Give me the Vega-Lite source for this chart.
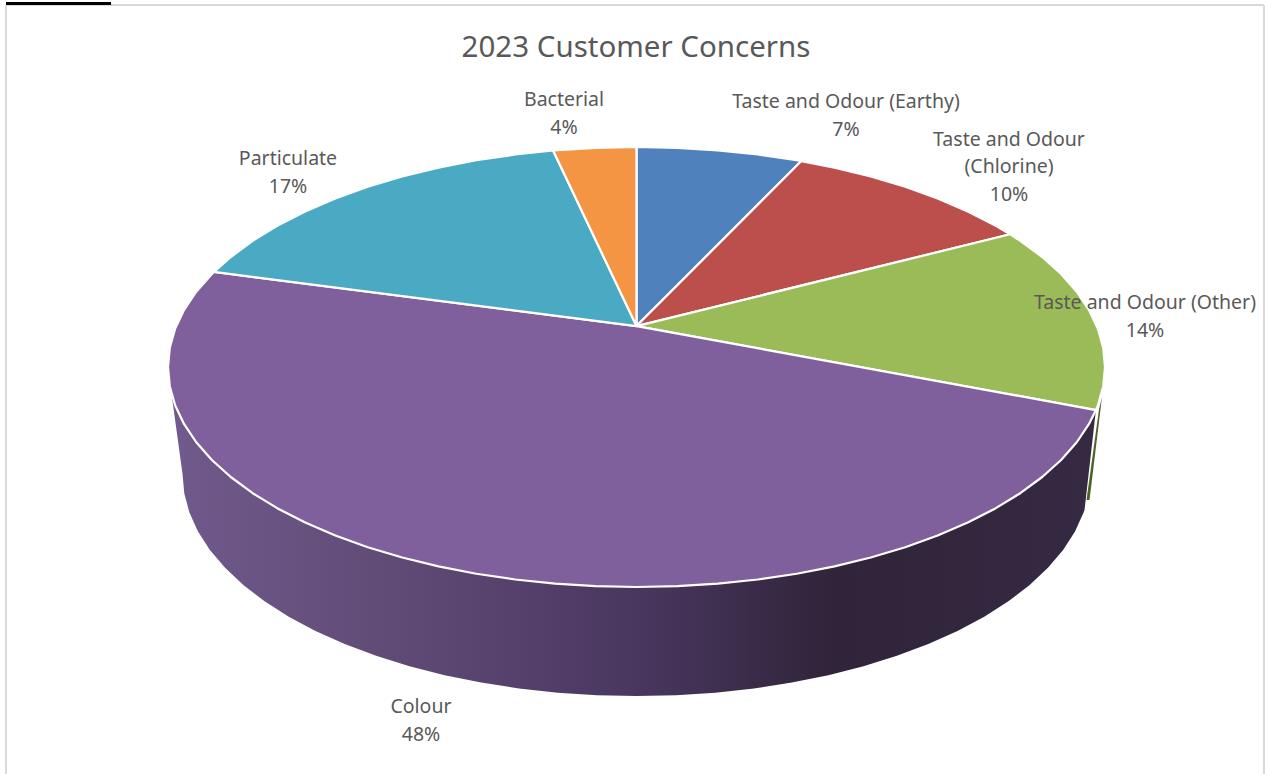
{
"$schema":"https://vega.github.io/schema/vega-lite/v6.json",
"width":1265,"height":774,"padding":0,"autosize":{"type":"none"},"background":"white",
"config":{"view":{"stroke":null}},
"title":{"text":"2023 Customer Concerns","font":"Noto Sans","fontSize":29.5,"fontWeight":"normal","color":"#595959","anchor":"middle","offset":-63,"dx":3.5},
"datasets":{
"frame":[
{"name":"top","u":-1.3458,"u2":1.3394,"v":1.6455,"v2":1.6455},
{"name":"left","u":-1.3458,"u2":-1.3458,"v":1.6455,"v2":-1.85},
{"name":"right","u":1.3394,"u2":1.3394,"v":1.6455,"v2":-1.85}],
"tab":[{"u":-1.3458,"u2":-1.1216,"v":1.6523,"v2":1.6523}],
"edge":[{"i":0,"u":0.9936,"v":-0.136},{"i":1,"u":0.9870,"v":-0.195},{"i":2,"u":0.9605,"v":-0.6045},{"i":3,"u":0.9670,"v":-0.6045}],
"wall":[
{"i":1,"u":0.9806,"v":-0.1959},{"i":2,"u":0.9659,"v":-0.2588},{"i":3,"u":0.9397,"v":-0.342},{"i":4,"u":0.9063,"v":-0.4226},{"i":5,"u":0.866,"v":-0.5},{"i":6,"u":0.8192,"v":-0.5736},{"i":7,"u":0.766,"v":-0.6428},{"i":8,"u":0.7071,"v":-0.7071},{"i":9,"u":0.6428,"v":-0.766},{"i":10,"u":0.5736,"v":-0.8192},{"i":11,"u":0.5,"v":-0.866},{"i":12,"u":0.4226,"v":-0.9063},{"i":13,"u":0.342,"v":-0.9397},{"i":14,"u":0.2588,"v":-0.9659},{"i":15,"u":0.1736,"v":-0.9848},{"i":16,"u":0.0872,"v":-0.9962},{"i":17,"u":0,"v":-1},{"i":18,"u":-0.0872,"v":-0.9962},{"i":19,"u":-0.1736,"v":-0.9848},{"i":20,"u":-0.2588,"v":-0.9659},{"i":21,"u":-0.342,"v":-0.9397},{"i":22,"u":-0.4226,"v":-0.9063},{"i":23,"u":-0.5,"v":-0.866},{"i":24,"u":-0.5736,"v":-0.8192},{"i":25,"u":-0.6428,"v":-0.766},{"i":26,"u":-0.7071,"v":-0.7071},{"i":27,"u":-0.766,"v":-0.6428},{"i":28,"u":-0.8192,"v":-0.5736},{"i":29,"u":-0.866,"v":-0.5},{"i":30,"u":-0.9063,"v":-0.4226},{"i":31,"u":-0.9397,"v":-0.342},{"i":32,"u":-0.9659,"v":-0.2588},{"i":33,"u":-0.9848,"v":-0.1736},{"i":34,"u":-0.9925,"v":-0.1219},
{"i":35,"u":-0.969,"v":-0.4864},{"i":36,"u":-0.9653,"v":-0.5744},{"i":37,"u":-0.9543,"v":-0.6616},{"i":38,"u":-0.936,"v":-0.7476},{"i":39,"u":-0.9106,"v":-0.8315},{"i":40,"u":-0.8782,"v":-0.9128},{"i":41,"u":-0.8392,"v":-0.991},{"i":42,"u":-0.7938,"v":-1.0652},{"i":43,"u":-0.7423,"v":-1.135},{"i":44,"u":-0.6852,"v":-1.2},{"i":45,"u":-0.6229,"v":-1.2594},{"i":46,"u":-0.5558,"v":-1.313},{"i":47,"u":-0.4845,"v":-1.3603},{"i":48,"u":-0.4095,"v":-1.401},{"i":49,"u":-0.3314,"v":-1.4346},{"i":50,"u":-0.2508,"v":-1.4611},{"i":51,"u":-0.1682,"v":-1.4802},{"i":52,"u":-0.0845,"v":-1.4917},{"i":53,"u":0,"v":-1.4955},{"i":54,"u":0.0845,"v":-1.4917},{"i":55,"u":0.1682,"v":-1.4802},{"i":56,"u":0.2508,"v":-1.4611},{"i":57,"u":0.3314,"v":-1.4346},{"i":58,"u":0.4095,"v":-1.401},{"i":59,"u":0.4845,"v":-1.3603},{"i":60,"u":0.5558,"v":-1.313},{"i":61,"u":0.6229,"v":-1.2594},{"i":62,"u":0.6852,"v":-1.2},{"i":63,"u":0.7423,"v":-1.135},{"i":64,"u":0.7938,"v":-1.0652},{"i":65,"u":0.8392,"v":-0.991},{"i":66,"u":0.8782,"v":-0.9128},{"i":67,"u":0.9106,"v":-0.8315},{"i":68,"u":0.936,"v":-0.7476},{"i":69,"u":0.9543,"v":-0.6616},{"i":70,"u":0.9563,"v":-0.6495}],
"slices":[
{"c":"Taste and Odour (Earthy)","i":0,"u":0,"v":0.186},{"c":"Taste and Odour (Earthy)","i":1,"u":0,"v":1},{"c":"Taste and Odour (Earthy)","i":2,"u":0.0872,"v":0.9962},{"c":"Taste and Odour (Earthy)","i":3,"u":0.1736,"v":0.9848},{"c":"Taste and Odour (Earthy)","i":4,"u":0.2588,"v":0.9659},{"c":"Taste and Odour (Earthy)","i":5,"u":0.342,"v":0.9397},{"c":"Taste and Odour (Earthy)","i":6,"u":0.3518,"v":0.9361},
{"c":"Taste and Odour (Chlorine)","i":0,"u":0,"v":0.186},{"c":"Taste and Odour (Chlorine)","i":1,"u":0.3518,"v":0.9361},{"c":"Taste and Odour (Chlorine)","i":2,"u":0.4226,"v":0.9063},{"c":"Taste and Odour (Chlorine)","i":3,"u":0.5,"v":0.866},{"c":"Taste and Odour (Chlorine)","i":4,"u":0.5736,"v":0.8192},{"c":"Taste and Odour (Chlorine)","i":5,"u":0.6428,"v":0.766},{"c":"Taste and Odour (Chlorine)","i":6,"u":0.7071,"v":0.7071},{"c":"Taste and Odour (Chlorine)","i":7,"u":0.766,"v":0.6428},{"c":"Taste and Odour (Chlorine)","i":8,"u":0.7976,"v":0.6032},
{"c":"Taste and Odour (Other)","i":0,"u":0,"v":0.186},{"c":"Taste and Odour (Other)","i":1,"u":0.7976,"v":0.6032},{"c":"Taste and Odour (Other)","i":2,"u":0.8192,"v":0.5736},{"c":"Taste and Odour (Other)","i":3,"u":0.866,"v":0.5},{"c":"Taste and Odour (Other)","i":4,"u":0.9063,"v":0.4226},{"c":"Taste and Odour (Other)","i":5,"u":0.9397,"v":0.342},{"c":"Taste and Odour (Other)","i":6,"u":0.9659,"v":0.2588},{"c":"Taste and Odour (Other)","i":7,"u":0.9848,"v":0.1736},{"c":"Taste and Odour (Other)","i":8,"u":0.9962,"v":0.0872},{"c":"Taste and Odour (Other)","i":9,"u":1,"v":0},{"c":"Taste and Odour (Other)","i":10,"u":0.9962,"v":-0.0872},{"c":"Taste and Odour (Other)","i":11,"u":0.9848,"v":-0.1736},{"c":"Taste and Odour (Other)","i":12,"u":0.9806,"v":-0.1959},
{"c":"Colour","i":0,"u":0,"v":0.186},{"c":"Colour","i":1,"u":0.9806,"v":-0.1959},{"c":"Colour","i":2,"u":0.9659,"v":-0.2588},{"c":"Colour","i":3,"u":0.9397,"v":-0.342},{"c":"Colour","i":4,"u":0.9063,"v":-0.4226},{"c":"Colour","i":5,"u":0.866,"v":-0.5},{"c":"Colour","i":6,"u":0.8192,"v":-0.5736},{"c":"Colour","i":7,"u":0.766,"v":-0.6428},{"c":"Colour","i":8,"u":0.7071,"v":-0.7071},{"c":"Colour","i":9,"u":0.6428,"v":-0.766},{"c":"Colour","i":10,"u":0.5736,"v":-0.8192},{"c":"Colour","i":11,"u":0.5,"v":-0.866},{"c":"Colour","i":12,"u":0.4226,"v":-0.9063},{"c":"Colour","i":13,"u":0.342,"v":-0.9397},{"c":"Colour","i":14,"u":0.2588,"v":-0.9659},{"c":"Colour","i":15,"u":0.1736,"v":-0.9848},{"c":"Colour","i":16,"u":0.0872,"v":-0.9962},{"c":"Colour","i":17,"u":0,"v":-1},{"c":"Colour","i":18,"u":-0.0872,"v":-0.9962},{"c":"Colour","i":19,"u":-0.1736,"v":-0.9848},{"c":"Colour","i":20,"u":-0.2588,"v":-0.9659},{"c":"Colour","i":21,"u":-0.342,"v":-0.9397},{"c":"Colour","i":22,"u":-0.4226,"v":-0.9063},{"c":"Colour","i":23,"u":-0.5,"v":-0.866},{"c":"Colour","i":24,"u":-0.5736,"v":-0.8192},{"c":"Colour","i":25,"u":-0.6428,"v":-0.766},{"c":"Colour","i":26,"u":-0.7071,"v":-0.7071},{"c":"Colour","i":27,"u":-0.766,"v":-0.6428},{"c":"Colour","i":28,"u":-0.8192,"v":-0.5736},{"c":"Colour","i":29,"u":-0.866,"v":-0.5},{"c":"Colour","i":30,"u":-0.9063,"v":-0.4226},{"c":"Colour","i":31,"u":-0.9397,"v":-0.342},{"c":"Colour","i":32,"u":-0.9659,"v":-0.2588},{"c":"Colour","i":33,"u":-0.9848,"v":-0.1736},{"c":"Colour","i":34,"u":-0.9962,"v":-0.0872},{"c":"Colour","i":35,"u":-1,"v":0},{"c":"Colour","i":36,"u":-0.9962,"v":0.0872},{"c":"Colour","i":37,"u":-0.9848,"v":0.1736},{"c":"Colour","i":38,"u":-0.9659,"v":0.2588},{"c":"Colour","i":39,"u":-0.9397,"v":0.342},{"c":"Colour","i":40,"u":-0.9063,"v":0.4226},{"c":"Colour","i":41,"u":-0.9018,"v":0.4321},
{"c":"Particulate","i":0,"u":0,"v":0.186},{"c":"Particulate","i":1,"u":-0.9018,"v":0.4321},{"c":"Particulate","i":2,"u":-0.866,"v":0.5},{"c":"Particulate","i":3,"u":-0.8192,"v":0.5736},{"c":"Particulate","i":4,"u":-0.766,"v":0.6428},{"c":"Particulate","i":5,"u":-0.7071,"v":0.7071},{"c":"Particulate","i":6,"u":-0.6428,"v":0.766},{"c":"Particulate","i":7,"u":-0.5736,"v":0.8192},{"c":"Particulate","i":8,"u":-0.5,"v":0.866},{"c":"Particulate","i":9,"u":-0.4226,"v":0.9063},{"c":"Particulate","i":10,"u":-0.342,"v":0.9397},{"c":"Particulate","i":11,"u":-0.2588,"v":0.9659},{"c":"Particulate","i":12,"u":-0.178,"v":0.984},
{"c":"Bacterial","i":0,"u":0,"v":0.186},{"c":"Bacterial","i":1,"u":-0.178,"v":0.984},{"c":"Bacterial","i":2,"u":-0.0872,"v":0.9962},{"c":"Bacterial","i":3,"u":0,"v":1}],
"labels":[
{"c":"Bacterial","share":4,"label":"Bacterial\n4%","u":-0.1547,"v":1.2182},
{"c":"Taste and Odour (Earthy)","share":7,"label":"Taste and Odour (Earthy)\n7%","u":0.4472,"v":1.2091},
{"c":"Taste and Odour (Chlorine)","share":10,"label":"Taste and Odour\n(Chlorine)\n10%","u":0.7951,"v":1.0409},
{"c":"Taste and Odour (Other)","share":14,"label":"Taste and Odour (Other)\n14%","u":1.0854,"v":0.2955},
{"c":"Particulate","share":17,"label":"Particulate\n17%","u":-0.7439,"v":0.95},
{"c":"Colour","share":48,"label":"Colour\n48%","u":-0.46,"v":-1.5409}]
},
"layer":[
{"data":{"name":"frame"},"mark":{"type":"rule","stroke":"#d9d9d9","strokeWidth":2},
 "encoding":{"x":{"field":"u","type":"quantitative","scale":{"domain":[-1.35859,1.34152],"nice":false,"zero":false},"axis":null},"x2":{"field":"u2"},"y":{"field":"v","type":"quantitative","scale":{"domain":[-1.85,1.66818],"nice":false,"zero":false},"axis":null},"y2":{"field":"v2"}}},
{"data":{"name":"tab"},"mark":{"type":"rule","stroke":"#000000","strokeWidth":3},
 "encoding":{"x":{"field":"u","type":"quantitative"},"x2":{"field":"u2"},"y":{"field":"v","type":"quantitative"},"y2":{"field":"v2"}}},
{"data":{"name":"edge"},"mark":{"type":"line","filled":true,"interpolate":"linear-closed","fill":"#4f6228","stroke":null},
 "encoding":{"x":{"field":"u","type":"quantitative"},"y":{"field":"v","type":"quantitative"},"order":{"field":"i"}}},
{"data":{"name":"wall"},"mark":{"type":"line","filled":true,"interpolate":"linear-closed","stroke":null,
 "fill":{"gradient":"linear","x1":0,"y1":0,"x2":1,"y2":0,"stops":[{"offset":0,"color":"#715a8c"},{"offset":0.25,"color":"#5f4a75"},{"offset":0.5,"color":"#4a3760"},{"offset":0.72,"color":"#2f2439"},{"offset":1,"color":"#352a42"}]}},
 "encoding":{"x":{"field":"u","type":"quantitative"},"y":{"field":"v","type":"quantitative"},"order":{"field":"i"}}},
{"data":{"name":"slices"},"mark":{"type":"line","filled":true,"interpolate":"linear-closed","stroke":"#ffffff","strokeWidth":2.2,"strokeJoin":"round"},
 "encoding":{"x":{"field":"u","type":"quantitative"},"y":{"field":"v","type":"quantitative"},"order":{"field":"i"},
 "fill":{"field":"c","type":"nominal","legend":null,"scale":{"domain":["Taste and Odour (Earthy)","Taste and Odour (Chlorine)","Taste and Odour (Other)","Colour","Particulate","Bacterial"],"range":["#4f81bd","#bc4f4c","#9bbb59","#7f5f9c","#4aa9c3","#f49544"]}}}},
{"data":{"name":"labels"},"mark":{"type":"text","font":"Noto Sans","fontSize":19.5,"color":"#595959","align":"center","baseline":"middle","lineBreak":"\n","lineHeight":27.5,"dy":1.5},
 "encoding":{"x":{"field":"u","type":"quantitative"},"y":{"field":"v","type":"quantitative"},"text":{"field":"label"}}}
]
}
